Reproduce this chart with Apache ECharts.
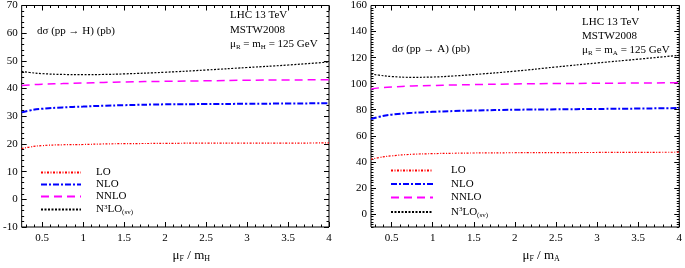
<!DOCTYPE html>
<html>
<head>
<meta charset="utf-8">
<script src="https://cdn.jsdelivr.net/npm/echarts@6/dist/echarts.min.js"></script>
<style>
html,body{margin:0;padding:0;background:#fff;}
#main{width:685px;height:268px;}
</style>
</head>
<body>
<div id="main"></div>
<script>
// x = muF / m
var xs = [0.25, 0.35, 0.5, 0.75, 1, 1.25, 1.5, 2, 2.5, 3, 3.5, 4];
// pp -> H (pb)
var hLO   = [18.3, 18.9, 19.4, 19.7, 19.8, 20.0, 20.1, 20.2, 20.3, 20.3, 20.3, 20.4];
var hNLO  = [31.4, 32.1, 32.7, 33.2, 33.5, 33.8, 34.0, 34.3, 34.4, 34.5, 34.6, 34.7];
var hNNLO = [41.1, 41.3, 41.6, 41.8, 42.0, 42.2, 42.4, 42.6, 42.8, 43.0, 43.1, 43.2];
var hN3LO = [46.2, 45.8, 45.4, 45.1, 45.0, 45.1, 45.3, 45.9, 46.7, 47.6, 48.5, 49.6];
// pp -> A (pb)
var aLO   = [42.0, 43.3, 44.6, 45.8, 46.3, 46.6, 46.8, 47.0, 47.1, 47.2, 47.3, 47.4];
var aNLO  = [72.8, 74.6, 76.2, 77.6, 78.4, 79.0, 79.4, 80.0, 80.3, 80.6, 80.9, 81.3];
var aNNLO = [96.0, 96.8, 97.4, 98.2, 98.6, 99.0, 99.3, 99.8, 100.1, 100.3, 100.5, 100.7];
var aN3LO = [107.5, 106.5, 105.5, 104.9, 105.1, 105.9, 107.0, 109.6, 112.8, 115.9, 118.8, 121.8];

var seriesNames = ['LO', 'NLO', 'NNLO', 'N3LO(sv)'];
var xMajor = [0.5, 1, 1.5, 2, 2.5, 3, 3.5, 4];
var hYMajor = [-10, 0, 10, 20, 30, 40, 50, 60, 70];
var aYMajor = [0, 20, 40, 60, 80, 100, 120, 140, 160];

var FONT = '"Liberation Serif", "DejaVu Serif", serif';

// 小刻度
function minorVals(from, to, step, majors){
	var out = [];
	for(var i = Math.round(from/step); i*step <= to + 1e-9; i++){
		var v = +(i*step).toFixed(4);
		if(majors.indexOf(v) < 0) out.push(v);
	}
	return out;
}

function pairs(y){
	return xs.map(function(x, i){ return [x, y[i]]; });
}

var rich = {
	n: {fontFamily: FONT, fontSize: 11, color: '#000'},
	s: {fontFamily: FONT, fontSize: 7, color: '#000', padding: [6, 0, 0, 0]},
	u: {fontFamily: FONT, fontSize: 7, color: '#000', padding: [0, 0, 6, 0]}
};
var nameRich = {
	n: {fontFamily: FONT, fontSize: 13, color: '#000'},
	s: {fontFamily: FONT, fontSize: 8, color: '#000', padding: [7, 0, 0, 0]}
};
var legRich = {
	n: {fontFamily: FONT, fontSize: 11, color: '#000', lineHeight: 11},
	s: {fontFamily: FONT, fontSize: 7, color: '#000', lineHeight: 11, padding: [6, 0, 0, 0]},
	u: {fontFamily: FONT, fontSize: 7, color: '#000', lineHeight: 11, padding: [0, 0, 5, 0]}
};

function xAxes(gi, sub){
	var minor = minorVals(0.3, 3.9, 0.1, xMajor);
	var base = {type: 'value', gridIndex: gi, min: 0.25, max: 4, splitLine: {show: false}, axisLine: {show: false, onZero: false}};
	function tick(pos, vals, len, label){
		return Object.assign({}, base, {
			position: pos,
			axisTick: {show: true, inside: true, length: len, customValues: vals, lineStyle: {color: '#000'}},
			axisLabel: label ? {show: true, customValues: xMajor, fontFamily: FONT, fontSize: 11, color: '#000', margin: 6} : {show: false}
		});
	}
	var main = tick('bottom', xMajor, 5, true);
	main.name = '{n|μ}{s|F}{n| / m}{s|' + sub + '}';
	main.nameLocation = 'middle';
	main.nameGap = 21;
	main.nameTextStyle = {rich: nameRich, padding: [0, 0, 0, 32]};
	return [main, tick('bottom', minor, 2.5), tick('top', xMajor, 5), tick('top', minor, 2.5)];
}

function yAxes(gi, min, max, majors, labels){
	var minor = minorVals(min, max, 2, majors);
	var base = {type: 'value', gridIndex: gi, min: min, max: max, splitLine: {show: false}, axisLine: {show: false, onZero: false}};
	function tick(pos, vals, len, label){
		return Object.assign({}, base, {
			position: pos,
			axisTick: {show: true, inside: true, length: len, customValues: vals, lineStyle: {color: '#000'}},
			axisLabel: label ? {show: true, customValues: labels, fontFamily: FONT, fontSize: 11, color: '#000', margin: 4} : {show: false}
		});
	}
	return [tick('left', majors, 5, true), tick('left', minor, 2.5), tick('right', majors, 5), tick('right', minor, 2.5)];
}

var styles = [
	{color: '#ff0000', width: 1.2, type: [2, 1.5, 1, 1.5]},
	{color: '#0000ff', width: 2, type: [6, 2, 2, 2]},
	{color: '#ff00ff', width: 1.5, type: [8, 5]},
	{color: '#000000', width: 1.2, type: [2, 1.5]}
];

function makeSeries(gi, datas){
	return datas.map(function(d, k){
		return {
			name: seriesNames[k],
			type: 'line',
			xAxisIndex: gi*4,
			yAxisIndex: gi*4,
			data: pairs(d),
			smooth: true,
			symbol: 'none',
			lineStyle: styles[k],
			itemStyle: {color: styles[k].color},
			animation: false
		};
	});
}

function legendFmt(name){
	if(name == 'N3LO(sv)') return '{n|N}{u|3}{n|LO}{s|(sv)}';
	return '{n|' + name + '}';
}

function legendCfg(left, top, w, gap, pad){
	return {
		orient: 'vertical',
		left: left,
		top: top,
		padding: 0,
		itemWidth: w,
		itemHeight: 8,
		itemGap: gap,
		selectedMode: false,
		data: seriesNames,
		formatter: legendFmt,
		itemStyle: {opacity: 0},
		textStyle: {rich: legRich, padding: [0, 0, 0, pad]}
	};
}

function txt(x, y, str){
	return {type: 'text', left: x, top: y, style: {text: str, rich: rich, fill: '#000'}};
}

var chart = echarts.init(document.getElementById('main'));
var option = {
	backgroundColor: '#fff',
	animation: false,
	grid: [
		{left: 18, right: 356, top: 5, bottom: 35, show: true, borderColor: '#000', borderWidth: 1},
		{left: 371, right: 5, top: 5, bottom: 35, show: true, borderColor: '#000', borderWidth: 1}
	],
	xAxis: xAxes(0, 'H').concat(xAxes(1, 'A')),
	yAxis: yAxes(0, -10, 70, hYMajor, hYMajor).concat(yAxes(1, -10, 160, aYMajor, aYMajor)),
	legend: [
		legendCfg(40, 167, 40, 1, 10),
		legendCfg(390, 165, 42, 2.5, 13)
	],
	series: makeSeries(0, [hLO, hNLO, hNNLO, hN3LO]).concat(makeSeries(1, [aLO, aNLO, aNNLO, aN3LO])),
	graphic: [
		txt(37, 26, '{n|dσ (pp → H) (pb)}'),
		txt(230, 10, '{n|LHC 13 TeV}'),
		txt(230, 25, '{n|MSTW2008}'),
		txt(230, 39, '{n|μ}{s|R}{n| = m}{s|H}{n| = 125 GeV}'),
		txt(392, 44, '{n|dσ (pp → A) (pb)}'),
		txt(582, 17, '{n|LHC 13 TeV}'),
		txt(582, 31, '{n|MSTW2008}'),
		txt(582, 45, '{n|μ}{s|R}{n| = m}{s|A}{n| = 125 GeV}')
	]
};
chart.setOption(option);
</script>
</body>
</html>
